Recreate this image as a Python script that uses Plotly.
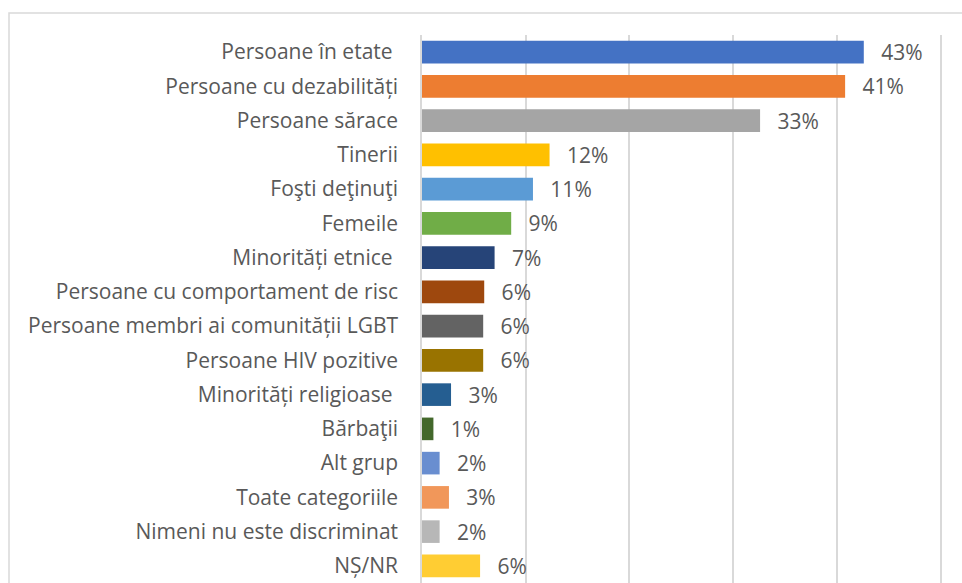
import plotly.graph_objects as go

categories = [
    "Persoane în etate\u00a0",
    "Persoane cu dezabilități",
    "Persoane sărace",
    "Tinerii",
    "Foşti deţinuţi",
    "Femeile",
    "Minorități etnice\u00a0",
    "Persoane cu comportament de risc",
    "Persoane membri ai comunității LGBT",
    "Persoane HIV pozitive",
    "Minorități religioase\u00a0",
    "Bărbaţii",
    "Alt grup",
    "Toate categoriile",
    "Nimeni nu este discriminat",
    "NȘ/NR",
]
values = [42.6, 40.8, 32.6, 12.3, 10.7, 8.6, 7.0, 6.0, 5.9, 5.9, 2.8, 1.1, 1.7, 2.6, 1.7, 5.6]
colors = [
    "#4472C4", "#ED7D31", "#A5A5A5", "#FFC000", "#5B9BD5", "#70AD47",
    "#264478", "#9E480E", "#636363", "#997300", "#255E91", "#43682B",
    "#698ED0", "#F1975A", "#B7B7B7", "#FFCD33",
]
grid_ticks = [0, 10, 20, 30, 40, 50]
x_range = [0, 52.07]

W, H = 962, 583
ML, MR, MT, MB = 422, 0, 35, 0
PW, PH = W - ML - MR, H - MT - MB

def px_to_paper_x(px):
    return (px - ML) / PW

def px_to_paper_y(py):
    return 1 - (py - MT) / PH

FONT = "Open Sans"
FS = 21
TXT = "#595959"
GRID = "#D9D9D9"

fig = go.Figure()
fig.add_trace(go.Bar(
    x=values,
    y=categories,
    orientation="h",
    marker=dict(color=colors, line=dict(width=0)),
    texttemplate="\u00a0\u00a0\u2009%{x:.0f}%",
    textposition="outside",
    constraintext="none",
    cliponaxis=False,
    textfont=dict(family=FONT, size=FS, color=TXT),
    hoverinfo="skip",
))

fig.update_layout(
    width=W, height=H,
    margin=dict(l=ML, r=MR, t=MT, b=MB, pad=0),
    paper_bgcolor="white",
    plot_bgcolor="white",
    showlegend=False,
    bargap=0.34,
    font=dict(family=FONT, size=FS, color=TXT),
    xaxis=dict(
        range=x_range,
        tickmode="array",
        tickvals=grid_ticks,
        showticklabels=False,
        showgrid=True,
        gridcolor=GRID,
        gridwidth=1.5,
        zeroline=False,
        showline=False,
        fixedrange=True,
    ),
    yaxis=dict(
        type="category",
        autorange="reversed",
        showgrid=False,
        zeroline=False,
        showline=True,
        linecolor=GRID,
        linewidth=1.5,
        ticks="outside",
        ticklen=18,
        tickcolor="rgba(0,0,0,0)",
        tickfont=dict(family=FONT, size=FS, color=TXT),
        fixedrange=True,
    ),
    shapes=[
        dict(
            type="rect", xref="paper", yref="paper",
            x0=px_to_paper_x(9), x1=px_to_paper_x(W + 20),
            y0=px_to_paper_y(H + 20), y1=px_to_paper_y(13),
            line=dict(color=GRID, width=1.5),
            fillcolor="rgba(0,0,0,0)",
            layer="below",
        )
    ],
)

fig.write_html(
    "out.html",
    config={"displayModeBar": False},
    post_script="document.body.style.margin='0';document.body.style.overflow='hidden';",
)
